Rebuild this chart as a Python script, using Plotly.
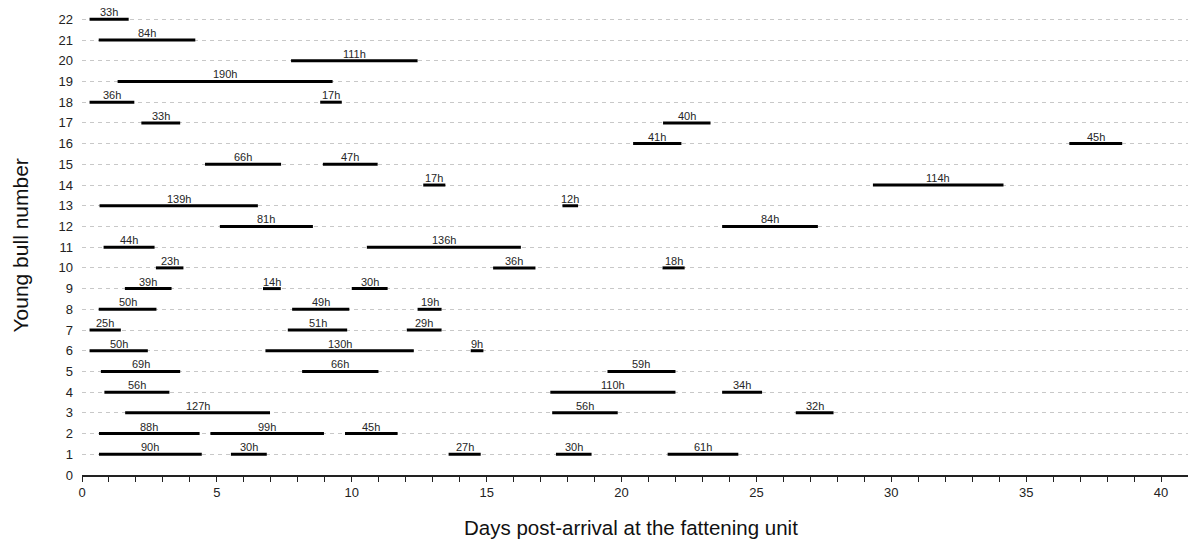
import plotly.graph_objects as go

# Data: bull number, start day, end day, label (hours)
bull = [22, 21, 20, 19, 18, 18, 17, 17, 16, 16, 15, 15, 14, 14, 13, 13,
        12, 12, 11, 11, 10, 10, 10, 9, 9, 9, 8, 8, 8, 7, 7, 7, 6, 6, 6,
        5, 5, 5, 4, 4, 4, 3, 3, 3, 2, 2, 2, 1, 1, 1, 1, 1]
start_day = [0.28, 0.62, 7.75, 1.32, 0.28, 8.83, 2.20, 21.54, 20.43, 36.60,
             4.56, 8.93, 12.65, 29.32, 0.65, 17.81, 5.11, 23.73, 0.80, 10.56,
             2.74, 15.24, 21.52, 1.59, 6.71, 10.00, 0.62, 7.79, 12.44, 0.28,
             7.63, 12.04, 0.28, 6.80, 14.41, 0.70, 8.16, 19.48, 0.83, 17.36,
             23.73, 1.60, 17.43, 26.46, 0.63, 4.76, 9.75, 0.63, 5.52, 13.59,
             17.57, 21.71]
end_day = [1.73, 4.20, 12.44, 9.29, 1.94, 9.63, 3.64, 23.30, 22.22, 38.56,
           7.38, 10.96, 13.47, 34.16, 6.52, 18.39, 8.56, 27.28, 2.69, 16.27,
           3.76, 16.81, 22.34, 3.32, 7.37, 11.33, 2.76, 9.91, 13.33, 1.44,
           9.83, 13.33, 2.44, 12.30, 14.88, 3.64, 10.99, 22.00, 3.24, 22.00,
           25.21, 6.97, 19.86, 27.86, 4.36, 8.97, 11.70, 4.44, 6.85, 14.78,
           18.89, 24.33]
hours = ["33h", "84h", "111h", "190h", "36h", "17h", "33h", "40h", "41h", "45h",
         "66h", "47h", "17h", "114h", "139h", "12h", "81h", "84h", "44h", "136h",
         "23h", "36h", "18h", "39h", "14h", "30h", "50h", "49h", "19h", "25h",
         "51h", "29h", "50h", "130h", "9h", "69h", "66h", "59h", "56h", "110h",
         "34h", "127h", "56h", "32h", "88h", "99h", "45h", "90h", "30h", "27h",
         "30h", "61h"]

y_ticks = list(range(0, 23))
x_ticks = [0, 5, 10, 15, 20, 25, 30, 35, 40]

FONT = "Liberation Sans, Arial"

xs, ys = [], []
for b, s, e in zip(bull, start_day, end_day):
    xs += [s, e, None]
    ys += [b, b, None]

fig = go.Figure()
fig.add_trace(go.Scatter(x=xs, y=ys, mode="lines",
                         line=dict(color="black", width=3),
                         hoverinfo="skip", showlegend=False))

for b, s, e, h in zip(bull, start_day, end_day, hours):
    fig.add_annotation(x=(s + e) / 2, y=b, text=h, showarrow=False,
                       yanchor="bottom", xanchor="center", yshift=-1,
                       font=dict(family=FONT, size=11, color="#262626"))

# axis titles
fig.add_annotation(xref="paper", yref="paper", x=0.496, y=-0.1137,
                   xanchor="center", yanchor="middle", showarrow=False,
                   text="Days post-arrival at the fattening unit",
                   font=dict(family=FONT, size=20.5, color="#111"))
fig.add_annotation(xref="paper", yref="paper", x=-0.0565, y=0.4914,
                   xanchor="center", yanchor="middle", showarrow=False,
                   textangle=-90, text="Young bull number",
                   font=dict(family=FONT, size=21, color="#111"))

fig.update_layout(
    width=1188, height=542,
    margin=dict(l=82, r=0, t=9, b=67),
    paper_bgcolor="white", plot_bgcolor="white",
    font=dict(family=FONT, color="#222"),
    showlegend=False,
    xaxis=dict(range=[0, 41], tickvals=x_ticks, showgrid=False, zeroline=False,
               showline=True, linecolor="#222", linewidth=1.5,
               ticks="outside", ticklen=5, tickcolor="#222", tickwidth=1,
               minor=dict(dtick=1, ticks="outside", ticklen=5, tickcolor="#222", showgrid=False),
               tickfont=dict(size=13)),
    yaxis=dict(range=[0, 22.5], tickvals=y_ticks, showgrid=True,
               gridcolor="#c8c8c8", griddash="4px,4px", gridwidth=1,
               zeroline=False, showline=False, ticks="",
               ticklabelstandoff=8, tickfont=dict(size=13)),
)

fig.write_html("out.html")
